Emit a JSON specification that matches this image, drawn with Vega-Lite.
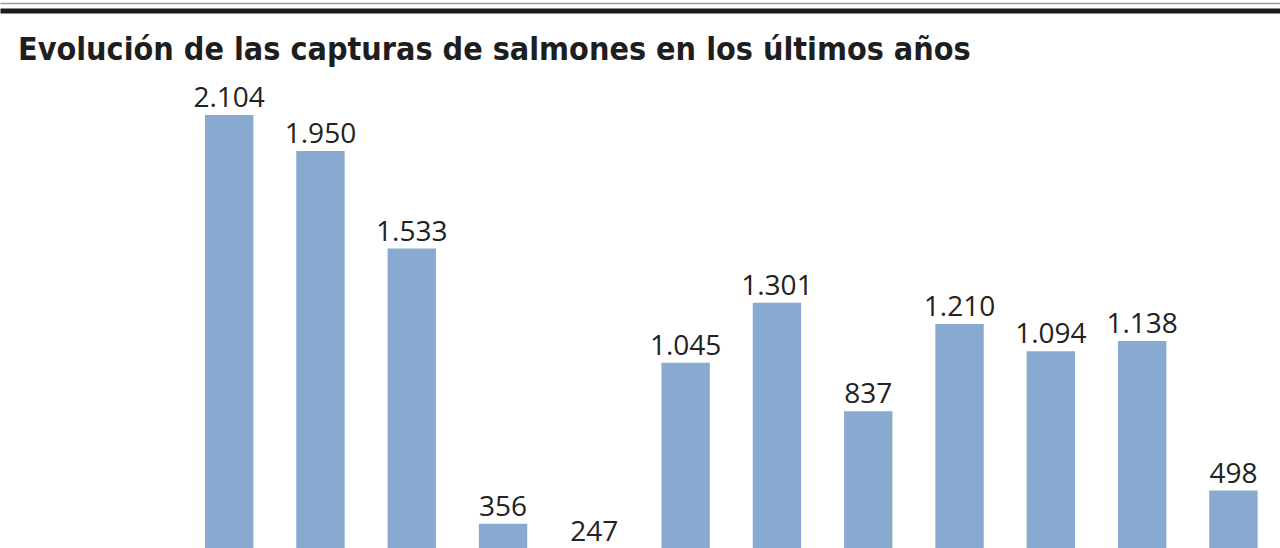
{
  "$schema": "https://vega.github.io/schema/vega-lite/v6.json",
  "width": 1280,
  "height": 458,
  "autosize": "none",
  "padding": {"left": 0, "right": 0, "top": 90, "bottom": 0},
  "background": "white",
  "config": {
    "view": {"stroke": null},
    "locale": {"number": {"decimal": ",", "thousands": ".", "grouping": [3], "currency": ["", " €"]}}
  },
  "title": {
    "text": "Evolución de las capturas de salmones en los últimos años",
    "anchor": "start",
    "frame": "group",
    "orient": "top",
    "font": "DejaVu Sans Condensed",
    "fontSize": 32,
    "fontWeight": "bold",
    "color": "#1e1e1e",
    "baseline": "alphabetic",
    "offset": -56,
    "dy": 33,
    "dx": 18
  },
  "data": {
    "values": [
      {"year": "2008", "capturas": 2104},
      {"year": "2009", "capturas": 1950},
      {"year": "2010", "capturas": 1533},
      {"year": "2011", "capturas": 356},
      {"year": "2012", "capturas": 247},
      {"year": "2013", "capturas": 1045},
      {"year": "2014", "capturas": 1301},
      {"year": "2015", "capturas": 837},
      {"year": "2016", "capturas": 1210},
      {"year": "2017", "capturas": 1094},
      {"year": "2018", "capturas": 1138},
      {"year": "2019", "capturas": 498}
    ]
  },
  "encoding": {
    "x": {
      "field": "year", "type": "ordinal",
      "scale": {
        "type": "band",
        "domain": ["2006", "2007", "2008", "2009", "2010", "2011", "2012", "2013", "2014", "2015", "2016", "2017", "2018", "2019"],
        "paddingInner": 0.47, "paddingOuter": 0.245, "align": 0.5
      }
    },
    "y": {
      "field": "capturas", "type": "quantitative",
      "scale": {"domain": [252.4, 2211], "zero": false, "nice": false},
      "axis": null
    }
  },
  "layer": [
    {
      "mark": {"type": "bar", "color": "#89aad0", "clip": true},
      "encoding": {
        "x": {
          "field": "year", "type": "ordinal",
          "axis": {"orient": "top", "offset": 79.5, "labels": false, "ticks": false, "grid": false, "title": null, "domainWidth": 5, "domainColor": "#1a1a1a"}
        }
      }
    },
    {
      "mark": {"type": "text", "font": "Open Sans", "fontSize": 28, "color": "#222222", "baseline": "alphabetic", "dy": -8},
      "encoding": {
        "x": {
          "field": "year", "type": "ordinal", "bandPosition": 0.5,
          "axis": {"orient": "top", "offset": 87, "labels": false, "ticks": false, "grid": false, "title": null, "domainWidth": 1.5, "domainColor": "#9a9a9a"}
        },
        "text": {"field": "capturas", "type": "quantitative", "format": ",d"}
      }
    }
  ],
  "resolve": {"axis": {"x": "independent"}}
}
